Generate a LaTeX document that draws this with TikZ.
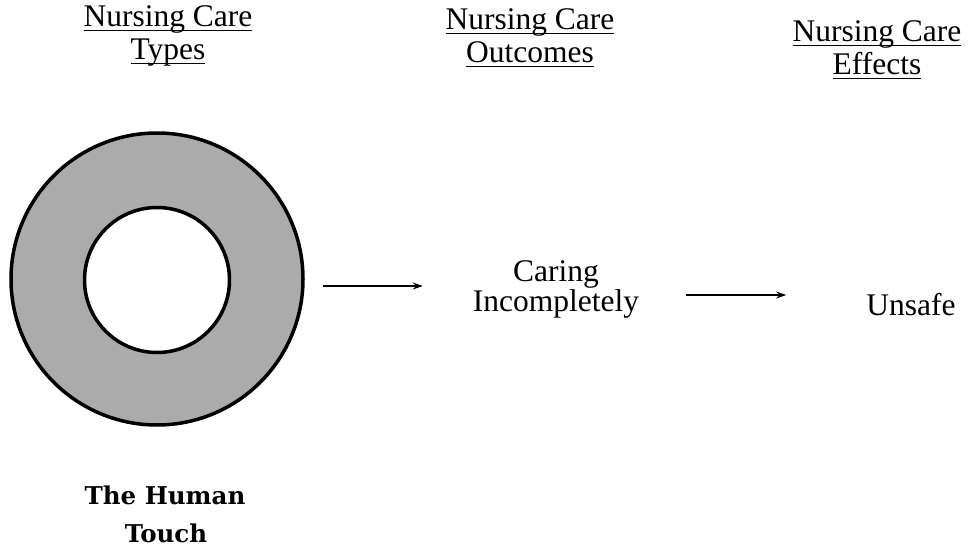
\documentclass[tikz,border=0pt]{standalone}
\usepackage{fontspec}
\setmainfont{Liberation Serif}
\newfontfamily\boldserif{DejaVu Serif}
\usetikzlibrary{arrows.meta}
\newsavebox\ulbox
\newcommand\myul[1]{\sbox\ulbox{#1}\rlap{\rule[-4.5pt]{\wd\ulbox}{1.4pt}}\usebox\ulbox}
\tikzset{
  head/.style={anchor=base,inner sep=0pt,font=\fontsize{31.5}{33}\selectfont},
  body/.style={inner sep=0pt,align=center,font=\fontsize{31.5}{30}\selectfont},
  lab/.style={anchor=base,inner sep=0pt,font=\boldserif\bfseries\fontsize{24.5}{30}\selectfont},
  arr/.style={line width=1.8pt,-{Stealth[length=10pt,width=7pt]}},
  ring/.style={circle,draw=black,line width=3.5pt,inner sep=0pt}
}
\begin{document}
\begin{tikzpicture}[x=1pt,y=1pt]
\useasboundingbox (0,0) rectangle (969,-556);
% headers
\node[head] (h1a) at (168,-27) {\myul{Nursing Care}};
\node[head] (h1b) at (168,-60) {\myul{Types}};
\node[head] (h2a) at (530,-30) {\myul{Nursing Care}};
\node[head] (h2b) at (530,-63) {\myul{Outcomes}};
\node[head] (h3a) at (877,-42) {\myul{Nursing Care}};
\node[head] (h3b) at (877,-75) {\myul{Effects}};
% ring
\node[ring,fill=black!33,minimum size=292pt] (outer) at (157,-279) {};
\node[ring,fill=white,minimum size=145pt] (inner) at (157,-280) {};
% texts
\node[body] (care) at (556,-289) {Caring\\Incompletely};
\node[body,anchor=base] (unsafe) at (911,-315) {Unsafe};
% label
\node[lab] (l1) at (165,-504) {The Human};
\node[lab] (l2) at (166,-542) {Touch};
% arrows
\draw[arr,shorten <=18pt,shorten >=50pt] ([yshift=-7pt]outer.east) -- ([yshift=3pt]care.west);
\draw[arr,shorten <=47pt,shorten >=80pt] ([yshift=-6pt]care.east) -- ([yshift=-6pt]care.east -| unsafe.west);
\end{tikzpicture}
\end{document}
